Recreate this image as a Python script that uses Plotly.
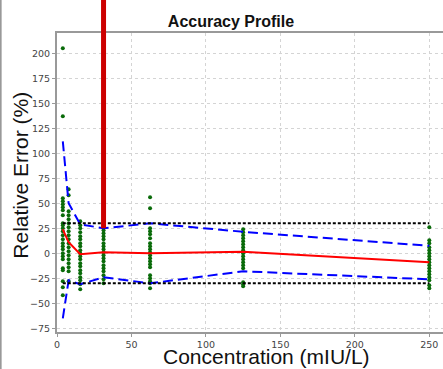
import plotly.graph_objects as go

# ---- data ----
conc = [3.9, 7.8, 15.6, 31.25, 62.5, 125, 250]
err_3_9 = [205, 137, 55, 52, 49, 46, 43, 38, 30, 28, 25, 22, 18, 14, 10, 7, 4, 0, -3, -6, -15, -17, -28, -34, -42]
err_7_8 = [64, 58, 42, 38, 34, 30, 26, 22, 18, 14, 10, 6, 2, -2, -6, -10, -14, -18, -28]
err_15_6 = [32, 28, 25, 21, 17, 14, 10, 7, 3, 0, -3, -6, -10, -13, -17, -20, -24, -27, -31, -36]
err_31_25 = [23, 20, 17, 14, 10, 7, 4, 1, -2, -5, -8, -12, -15, -18, -22, -26, -30]
err_62_5 = [56, 45, 25, 22, 19, 15, 10, 7, 4, 1, -2, -5, -8, -11, -14, -22, -25, -28, -30, -35]
err_125 = [24, 21, 18, 15, 12, 9, 6, 3, 0, -3, -6, -9, -12, -15, -29, -31, -33]
err_250 = [26, 13, 10, 6, 3, 0, -3, -6, -9, -12, -15, -18, -21, -24, -27, -32, -35]
all_errors = [err_3_9, err_7_8, err_15_6, err_31_25, err_62_5, err_125, err_250]

mean_bias = [24, 11, -1, 1, 0, 1.5, -9]
upper_tol = [112, 50, 29, 25, 30, 21.5, 7.5]
lower_tol = [-65, -27, -31, -24, -30, -18, -26]
acc_x = [3.9, 250]
acc_upper = [30, 30]
acc_lower = [-30, -30]
bar_x = [31.25, 31.25]
bar_y = [25, 400]

X_RANGE = [0, 259.2]
Y_RANGE = [-78.7, 220.3]
Y2_RANGE = [-78.7, 253.3]
Y_TOP_FRAC = 299 / 332

fig = go.Figure()

px_x, px_y = [], []
for c, errs in zip(conc, all_errors):
    px_x += [c] * len(errs)
    px_y += errs
fig.add_trace(go.Scatter(x=px_x, y=px_y, mode="markers",
                         marker=dict(color="#0a6b0a", size=4), showlegend=False))
fig.add_trace(go.Scatter(x=conc, y=mean_bias, mode="lines",
                         line=dict(color="#ff0000", width=2), showlegend=False))
fig.add_trace(go.Scatter(x=conc, y=upper_tol, mode="lines",
                         line=dict(color="#0000ff", width=2, dash="10px,5px"), showlegend=False))
fig.add_trace(go.Scatter(x=conc, y=lower_tol, mode="lines",
                         line=dict(color="#0000ff", width=2, dash="10px,5px"), showlegend=False))
fig.add_trace(go.Scatter(x=acc_x, y=acc_upper, mode="lines",
                         line=dict(color="#000000", width=2, dash="3px,2px"), showlegend=False))
fig.add_trace(go.Scatter(x=acc_x, y=acc_lower, mode="lines",
                         line=dict(color="#000000", width=2, dash="3px,2px"), showlegend=False))
fig.add_trace(go.Scatter(x=bar_x, y=bar_y, mode="lines", xaxis="x2", yaxis="y2",
                         line=dict(color="#cc0000", width=5), showlegend=False))

tickfont = dict(family="DejaVu Sans", size=9.5, color="#444444")
fig.update_layout(
    width=443, height=369,
    margin=dict(l=57, r=0, t=0, b=37),
    plot_bgcolor="rgba(0,0,0,0)", paper_bgcolor="white",
    title=dict(text="<b>Accuracy Profile</b>", x=0.5214, xref="container", xanchor="center",
               y=0.943, yref="container", yanchor="middle",
               font=dict(family="Liberation Sans", size=16, color="#111111")),
    xaxis=dict(range=X_RANGE, domain=[0, 1], anchor="y", tickvals=[0, 50, 100, 150, 200, 250],
               showgrid=True, gridcolor="#d4d4d4", griddash="dot", gridwidth=1,
               zeroline=False, showline=True, linecolor="#999999", linewidth=2, mirror=True,
               ticks="outside", ticklen=3, tickcolor="#999999", tickfont=tickfont),
    yaxis=dict(range=Y_RANGE, domain=[0, Y_TOP_FRAC], anchor="x",
               tickvals=[-75, -50, -25, 0, 25, 50, 75, 100, 125, 150, 175, 200],
               showgrid=True, gridcolor="#d4d4d4", griddash="dot", gridwidth=1,
               zeroline=False, showline=True, linecolor="#999999", linewidth=2,
               ticks="outside", ticklen=3, tickcolor="#999999", tickfont=tickfont),
    xaxis2=dict(range=X_RANGE, domain=[0, 1], anchor="y2", visible=False, showgrid=False),
    yaxis2=dict(range=Y2_RANGE, domain=[0, 1], anchor="x2", visible=False, showgrid=False),
    annotations=[
        dict(text="Concentration (mIU/L)", xref="paper", yref="paper", x=0.5437, y=-0.0738,
             xanchor="center", yanchor="middle", showarrow=False,
             font=dict(family="Liberation Sans", size=21, color="#111111")),
        dict(text="Relative Error (%)", xref="paper", yref="paper", x=-0.094, y=0.4729,
             xanchor="center", yanchor="middle", showarrow=False, textangle=-90,
             font=dict(family="Liberation Sans", size=21, color="#111111")),
    ],
    shapes=[
        dict(type="line", xref="paper", yref="paper", x0=-0.146, x1=-0.146,
             y0=-0.112, y1=1, line=dict(color="#999999", width=2)),
    ],
)

fig.write_html("out.html")
